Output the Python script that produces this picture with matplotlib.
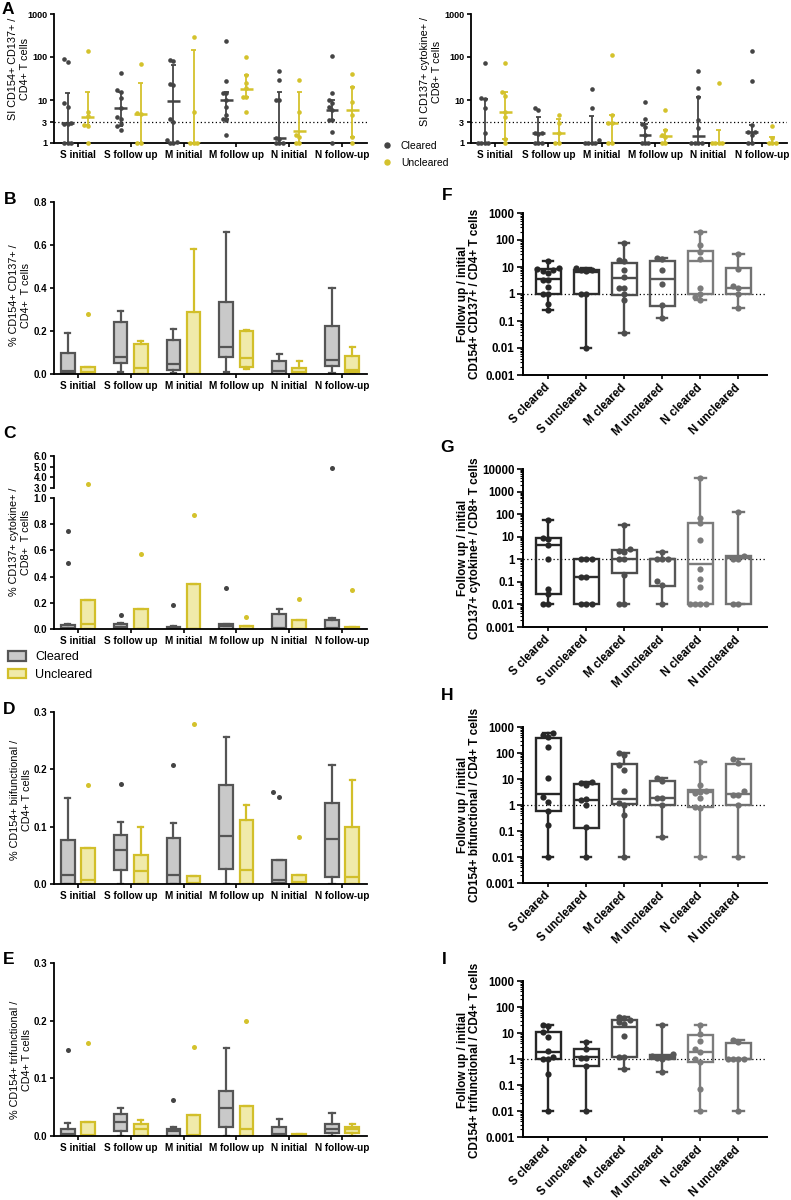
import numpy as np
import matplotlib
matplotlib.use('Agg')
import matplotlib.pyplot as plt
from matplotlib.lines import Line2D
from matplotlib.patches import Patch
from matplotlib.ticker import LogLocator, NullFormatter, NullLocator

plt.rcParams['font.family'] = ['Liberation Sans', 'DejaVu Sans']

# ---------------- data ----------------
groups_a = ['S initial', 'S follow up', 'M initial', 'M follow up', 'N initial', 'N follow-up']
groups_r = ['S cleared', 'S uncleared', 'M cleared', 'M uncleared', 'N cleared', 'N uncleared']

# A left: SI CD154+ CD137+ / CD4+
a1_c_pts = [[75, 92, 8.5, 7.0, 2.9, 2.8, 2.7, 1, 1, 1],
            [42, 17, 15.5, 11, 6.4, 4.1, 3.7, 2.8, 2.5, 2.05],
            [83, 80, 23.7, 22.8, 3.7, 3.1, 1.15, 1.05, 1, 1],
            [230, 28, 14.8, 14.3, 10, 7, 4.5, 3.7, 3.5, 1.5],
            [48, 29.4, 10, 9.8, 1.33, 1.26, 1, 1, 1],
            [107, 14.8, 10, 8.3, 6.7, 5.8, 3.5, 3.4, 1.8, 1]]
a1_c_med = [2.9, 6.4, 9.5, 10, 1.33, 6.0]
a1_c_lo = [1, 2.5, 1, 3.7, 1, 3.4]
a1_c_hi = [14.8, 15.6, 66, 15.6, 15.6, 10]
a1_u_pts = [[140, 5.3, 4.2, 2.6, 2.5, 1],
            [70, 5.0, 4.7, 1, 1],
            [295, 5.3, 1, 1, 1],
            [100, 38.6, 25, 18.8, 12, 11.5, 5.3],
            [29.4, 5.3, 1.5, 1.38, 1, 1],
            [40.6, 19.9, 9.1, 4.5, 1.38, 1]]
a1_u_med = [4.1, 4.7, 1, 17.8, 1.9, 6.0]
a1_u_lo = [2.6, 1, 1, 11.5, 1, 1.38]
a1_u_hi = [15.6, 25, 143, 38.6, 15.6, 19.9]

# A right: SI CD137+ cytokine+ / CD8+
a2_c_pts = [[72, 11, 10.4, 6.4, 1.7, 1, 1, 1, 1],
            [6.4, 5.8, 1.75, 1.7, 1.65, 1, 1, 1],
            [17.8, 6.4, 1.15, 1, 1, 1, 1],
            [9.1, 3.7, 2.7, 2.4, 1.5, 1, 1, 1],
            [48, 19.5, 12, 3.5, 2.2, 1, 1, 1, 1],
            [135, 28, 2.6, 1.8, 1.8, 1.5, 1, 1]]
a2_c_med = [1, 1.75, 1, 1.5, 1.46, 1.8]
a2_c_lo = [1, 1, 1, 1, 1, 1]
a2_c_hi = [10.4, 4.1, 4.2, 2.7, 12, 2.6]
a2_u_pts = [[72, 15.6, 12.6, 5.3, 4.1, 1.26, 1],
            [4.5, 2.9, 1.7, 1, 1],
            [113, 4.6, 2.9, 2.9, 1, 1],
            [6.0, 2.0, 1.5, 1.38, 1, 1],
            [24.6, 1, 1, 1, 1],
            [2.5, 1.33, 1, 1, 1]]
a2_u_med = [5.3, 1.7, 2.9, 1.43, 1, 1]
a2_u_lo = [1.26, 1, 1, 1, 1, 1]
a2_u_hi = [15.6, 3.7, 4.6, 2.0, 2.0, 1.38]

# box stats: (whislo, q1, med, q3, whishi)
b_c = [(0, 0.005, 0.015, 0.098, 0.19), (0.011, 0.05, 0.078, 0.243, 0.295),
       (0.005, 0.017, 0.047, 0.16, 0.209), (0.008, 0.078, 0.124, 0.333, 0.66),
       (0, 0.0, 0.016, 0.059, 0.095), (0.004, 0.039, 0.067, 0.222, 0.4)]
b_u = [(0, 0, 0.009, 0.031, 0.031), (0, 0, 0.028, 0.141, 0.152),
       (0, 0, 0.0, 0.29, 0.58), (0.023, 0.033, 0.075, 0.2, 0.203),
       (0, 0, 0.008, 0.03, 0.059), (0, 0.008, 0.02, 0.082, 0.124)]
b_c_out = [[], [], [], [], [], []]
b_u_out = [[0.28], [], [], [], [], []]

c_c = [(0, 0, 0.005, 0.033, 0.035), (0, 0, 0.018, 0.038, 0.046),
       (0, 0, 0.008, 0.018, 0.023), (0, 0, 0.023, 0.038, 0.041),
       (0, 0, 0.005, 0.115, 0.149), (0, 0, 0.004, 0.072, 0.085)]
c_u = [(0, 0, 0.038, 0.22, 0.22), (0, 0, 0.002, 0.155, 0.155),
       (0, 0, 0.002, 0.34, 0.34), (0, 0, 0.003, 0.023, 0.023),
       (0, 0, 0.003, 0.072, 0.072), (0, 0, 0.002, 0.013, 0.013)]
c_c_out = [[0.75, 0.505], [0.11], [0.18], [0.31], [], [4.85]]
c_u_out = [[3.35], [0.57], [0.87], [0.09], [0.23], [0.3]]

d_c = [(0, 0.0, 0.016, 0.077, 0.15), (0, 0.024, 0.06, 0.085, 0.109),
       (0, 0.0, 0.016, 0.081, 0.107), (0, 0.026, 0.083, 0.172, 0.256),
       (0, 0.002, 0.007, 0.042, 0.042), (0, 0.013, 0.079, 0.142, 0.208)]
d_u = [(0, 0, 0.0075, 0.063, 0.063), (0, 0, 0.023, 0.051, 0.1),
       (0, 0, 0.001, 0.014, 0.014), (0, 0, 0.025, 0.112, 0.138),
       (0, 0, 0.003, 0.016, 0.016), (0, 0, 0.012, 0.1, 0.182)]
d_c_out = [[], [0.174], [0.207], [], [0.151, 0.161], []]
d_u_out = [[0.172], [], [0.279], [], [0.082], []]

e_c = [(0, 0, 0.003, 0.013, 0.022), (0, 0.008, 0.025, 0.038, 0.048),
       (0, 0, 0.008, 0.013, 0.016), (0, 0.015, 0.048, 0.078, 0.152),
       (0, 0, 0.003, 0.016, 0.03), (0, 0.005, 0.013, 0.021, 0.04)]
e_u = [(0, 0, 0.002, 0.025, 0.025), (0, 0, 0.012, 0.02, 0.027),
       (0, 0, 0.001, 0.036, 0.036), (0, 0, 0.012, 0.052, 0.052),
       (0, 0, 0.001, 0.004, 0.004), (0, 0.005, 0.012, 0.016, 0.02)]
e_c_out = [[0.15], [], [0.062], [], [], []]
e_u_out = [[0.162], [], [0.155], [0.2], [], []]

# follow up / initial ratios
f_stats = [(0.25, 1, 3.7, 8.7, 16.2), (0.01, 1, 6.5, 7.5, 9.4), (0.037, 0.95, 4.0, 14, 80),
           (0.13, 0.35, 3.7, 16, 22), (0.62, 1, 16.7, 39, 198), (0.3, 1, 1.7, 9.4, 31)]
f_pts = [[16, 9.4, 8.7, 7.5, 7.1, 6, 3.4, 3.2, 1.8, 1, 1, 0.41, 0.25],
         [9.4, 8.0, 7.5, 7.1, 1, 1, 0.01],
         [80, 18.7, 16.7, 8, 4.3, 1.7, 1.6, 1, 0.58, 0.037],
         [22, 20, 7.5, 2.4, 0.38, 0.13],
         [198, 63, 36, 19, 1.7, 1, 0.77, 0.62],
         [31, 8.7, 1.9, 1.7, 1, 0.3]]
g_stats = [(0.01, 0.03, 4.3, 8.5, 55), (0.01, 0.01, 0.17, 1, 1), (0.01, 0.24, 1, 2.6, 34),
           (0.01, 0.066, 1, 1, 2.2), (0.01, 0.01, 0.64, 42, 3800), (0.01, 0.01, 1.1, 1.4, 128)]
g_pts = [[55, 9, 8.2, 4.3, 1, 0.05, 0.03, 0.01, 0.01],
         [1, 1, 1, 0.17, 0.17, 0.01, 0.01, 0.01],
         [34, 3, 2.3, 2, 1, 1, 0.2, 0.01, 0.01],
         [2.2, 1, 1, 1, 0.11, 0.07, 0.01],
         [3800, 70, 39, 7, 0.36, 0.13, 0.062, 0.01, 0.01, 0.01, 0.01],
         [128, 1.4, 1, 1, 0.01, 0.01]]
h_stats = [(0.01, 0.59, 2.65, 390, 570), (0.01, 0.13, 1.56, 6.2, 7.9), (0.01, 1.1, 1.7, 38, 103),
           (0.06, 1, 1.8, 8.4, 10.6), (0.01, 0.81, 3.2, 3.8, 44), (0.01, 1, 2.65, 38, 57)]
h_pts = [[570, 490, 400, 175, 10.6, 2.1, 1.35, 0.6, 0.17, 0.01],
         [7.9, 6.8, 5.9, 1.7, 1.55, 1, 0.14, 0.01],
         [100, 84, 34, 22, 3.5, 1.2, 1, 0.41, 0.01],
         [10.6, 8.6, 1.8, 1.8, 1, 0.06],
         [44, 5.9, 3.6, 3.3, 2.8, 1.8, 0.86, 0.75, 0.01],
         [57, 40, 3.45, 2.4, 2.4, 1, 0.01]]
i_stats = [(0.01, 1, 1.9, 10.8, 21), (0.01, 0.55, 1.16, 2.44, 4.4), (0.41, 1.2, 17, 33, 43),
           (0.33, 1.0, 1.16, 1.47, 19.5), (0.01, 0.74, 1.8, 8.5, 19.5), (0.01, 1, 1, 4.0, 5.4)]
i_pts = [[21, 18.4, 10.8, 7.3, 2, 1.16, 1, 1, 0.26, 0.01],
         [4.4, 2.4, 1.1, 1.1, 0.55, 0.01],
         [43, 39, 32, 26, 22, 7.5, 1.2, 1.2, 0.41],
         [19.5, 1.5, 1.35, 1.16, 1.1, 1, 0.33],
         [19.5, 8.8, 5.1, 2.4, 1.8, 1, 0.74, 0.073, 0.01],
         [5.4, 4.4, 1, 1, 1, 1, 0.01]]

# ---------------- style ----------------
DARK = '#444444'
YEL = '#d4c22c'
G_FACE = '#c9c9c9'
G_EDGE = '#555555'
Y_FACE = '#f0eaaa'
Y_EDGE = '#d2bf2a'
R_COLS = ['#262626', '#2e2e2e', '#4d4d4d', '#575757', '#7c7c7c', '#727272']

W, H = 791, 1200
fig = plt.figure(figsize=(W / 100, H / 100), dpi=100)


def px_axes(x0, y0, x1, y1):
    return fig.add_axes([x0 / W, 1 - y1 / H, (x1 - x0) / W, (y1 - y0) / H])


def clean(ax, lw=1.4):
    for s in ['top', 'right']:
        ax.spines[s].set_visible(False)
    for s in ['left', 'bottom']:
        ax.spines[s].set_linewidth(lw)
    ax.tick_params(width=1.2, length=4, color='black')


def swarm(vals, step, thr, log=True):
    v = np.log10(vals) if log else np.asarray(vals, float)
    offs = np.zeros(len(v))
    placed = []
    for i in np.argsort(v):
        used = [k for j, k in placed if abs(v[j] - v[i]) < thr]
        for k in [0, -1, 1, -2, 2, -3, 3, -4, 4, -5, 5]:
            if k not in used:
                break
        placed.append((i, k))
        offs[i] = k * step
    return offs


def txt(x, y, s, **kw):
    fig.text(x / W, 1 - y / H, s, **kw)


def panel_a(ax, cp, cm, clo, chi, up, um, ulo, uhi):
    ax.set_yscale('log')
    for i in range(6):
        for pts, med, lo, hi, col, dx in [(cp[i], cm[i], clo[i], chi[i], DARK, -0.19),
                                          (up[i], um[i], ulo[i], uhi[i], YEL, 0.19)]:
            x = i + dx
            offs = swarm(pts, 0.065, 0.1)
            ax.scatter(x + offs, pts, s=11, color=col, lw=0, zorder=3, clip_on=False)
            ax.vlines(x, lo, hi, color=col, lw=1.3, zorder=2)
            ax.hlines([lo, hi], x - 0.05, x + 0.05, color=col, lw=1.3, zorder=2)
            ax.hlines(med, x - 0.12, x + 0.12, color=col, lw=1.8, zorder=4)
    ax.axhline(3, ls=(0, (1, 2)), color='black', lw=0.9, zorder=1)
    ax.set_ylim(1, 1000)
    ax.set_xlim(-0.45, 5.47)
    clean(ax, 1.3)
    ax.yaxis.set_minor_locator(NullLocator())
    ax.set_yticks([1, 3, 10, 100, 1000], labels=['1', '3', '10', '100', '1000'],
                  fontweight='bold', fontsize=6.5)
    ax.set_xticks(range(6), labels=groups_a, fontweight='bold', fontsize=7.2)
    ax.tick_params(axis='y', length=3, pad=2)
    ax.tick_params(axis='x', length=3, pad=2)


def to_stats(rows):
    return [dict(whislo=a, q1=b, med=c, q3=d, whishi=e, fliers=[]) for a, b, c, d, e in rows]


def draw_boxes(ax, cs, us, cout, uout, thr):
    pos = np.arange(6)
    for stats, face, edge, dx in [(cs, G_FACE, G_EDGE, -0.19), (us, Y_FACE, Y_EDGE, 0.19)]:
        lp = dict(color=edge, lw=1.6)
        ax.bxp(to_stats(stats), positions=pos + dx, widths=0.26, patch_artist=True,
               showfliers=False, manage_ticks=False, capwidths=0.1,
               boxprops=dict(facecolor=face, edgecolor=edge, lw=1.6),
               medianprops=lp, whiskerprops=lp, capprops=lp)
    for outs, col, dx in [(cout, DARK, -0.19), (uout, YEL, 0.19)]:
        for i, o in enumerate(outs):
            if o:
                offs = swarm(o, 0.12, thr, log=False)
                ax.scatter(i + dx + offs, o, s=13, color=col, lw=0, zorder=3)
    ax.set_xlim(-0.45, 5.47)


def panel_box(ax, cs, us, cout, uout, top, ticks):
    draw_boxes(ax, cs, us, cout, uout, top * 0.04)
    ax.set_ylim(0, top)
    clean(ax, 1.3)
    ax.set_yticks(ticks, labels=['%.1f' % t for t in ticks], fontweight='bold', fontsize=7)
    ax.set_xticks(range(6), labels=groups_a, fontweight='bold', fontsize=7.2)
    ax.tick_params(length=3, pad=2)


def panel_ratio(ax, stats, pts, top, ylabels):
    for i in range(6):
        lp = dict(color=R_COLS[i], lw=1.7)
        ax.bxp(to_stats([stats[i]]), positions=[i], widths=0.66, patch_artist=True,
               showfliers=False, manage_ticks=False, capwidths=0.27,
               boxprops=dict(facecolor='none', edgecolor=R_COLS[i], lw=1.7),
               medianprops=lp, whiskerprops=lp, capprops=lp, zorder=2)
        offs = swarm(pts[i], 0.14, 0.2)
        ax.scatter(i + offs, pts[i], s=20, color=R_COLS[i], lw=0, zorder=3)
    ax.axhline(1, ls=(0, (1, 2)), color='black', lw=0.9, zorder=1)
    ax.set_yscale('log')
    ax.set_ylim(0.001, top)
    ax.set_xlim(-0.66, 5.75)
    clean(ax, 1.4)
    decs = [10.0 ** k for k in range(-3, len(ylabels) - 3)]
    ax.set_yticks(decs, labels=ylabels, fontweight='bold', fontsize=8.3)
    ax.yaxis.set_minor_locator(LogLocator(base=10, subs=np.arange(2, 10), numticks=20))
    ax.yaxis.set_minor_formatter(NullFormatter())
    ax.tick_params(axis='y', which='minor', length=2, width=0.8)
    ax.tick_params(axis='y', which='major', length=4, pad=2)
    ax.set_xticks(range(6), labels=groups_r, rotation=45, ha='right', va='center',
                  rotation_mode='anchor', fontweight='bold', fontsize=8.3)
    ax.tick_params(axis='x', length=3, pad=5)


# ---------------- A ----------------
ax_a1 = px_axes(54, 14, 367, 143)
panel_a(ax_a1, a1_c_pts, a1_c_med, a1_c_lo, a1_c_hi, a1_u_pts, a1_u_med, a1_u_lo, a1_u_hi)
ax_a2 = px_axes(471, 14, 787, 143)
panel_a(ax_a2, a2_c_pts, a2_c_med, a2_c_lo, a2_c_hi, a2_u_pts, a2_u_med, a2_u_lo, a2_u_hi)

fig.legend([Line2D([], [], marker='o', ls='', color=DARK, ms=3.6),
            Line2D([], [], marker='o', ls='', color=YEL, ms=3.6)],
           ['Cleared', 'Uncleared'], loc='upper left', bbox_to_anchor=(382 / W, 1 - 141 / H),
           frameon=False, fontsize=7.5, handlelength=1.0, handletextpad=0.8,
           labelspacing=0.65, borderpad=0, borderaxespad=0)

# ---------------- B ----------------
ax_b = px_axes(54, 202, 367, 374)
panel_box(ax_b, b_c, b_u, b_c_out, b_u_out, 0.8, [0.0, 0.2, 0.4, 0.6, 0.8])

# ---------------- C (broken axis) ----------------
ax_ct = px_axes(54, 456, 367, 488)
ax_cb = px_axes(54, 498, 367, 629)
for ax in (ax_ct, ax_cb):
    draw_boxes(ax, c_c, c_u, c_c_out, c_u_out, 0.04)
ax_ct.set_ylim(3, 6)
ax_cb.set_ylim(0, 1)
clean(ax_ct, 1.3)
clean(ax_cb, 1.3)
ax_ct.spines['bottom'].set_visible(False)
ax_ct.set_xticks([])
ax_ct.set_yticks([3, 4, 5, 6], labels=['3.0', '4.0', '5.0', '6.0'], fontweight='bold', fontsize=7)
ax_cb.set_yticks([0, 0.2, 0.4, 0.6, 0.8, 1.0], labels=['0.0', '0.2', '0.4', '0.6', '0.8', '1.0'],
                 fontweight='bold', fontsize=7)
ax_cb.set_xticks(range(6), labels=groups_a, fontweight='bold', fontsize=7.2)
for ax in (ax_ct, ax_cb):
    ax.tick_params(length=3, pad=2)

fig.legend([Patch(facecolor=G_FACE, edgecolor=G_EDGE, lw=1.6),
            Patch(facecolor=Y_FACE, edgecolor=Y_EDGE, lw=1.6)],
           ['Cleared', 'Uncleared'], loc='upper left', bbox_to_anchor=(8 / W, 1 - 651 / H),
           frameon=False, fontsize=9, handlelength=1.4, handleheight=0.8,
           handletextpad=0.8, labelspacing=0.45, borderpad=0, borderaxespad=0)

# ---------------- D, E ----------------
ax_d = px_axes(54, 712, 367, 884)
panel_box(ax_d, d_c, d_u, d_c_out, d_u_out, 0.3, [0.0, 0.1, 0.2, 0.3])
ax_e = px_axes(54, 963, 367, 1136)
panel_box(ax_e, e_c, e_u, e_c_out, e_u_out, 0.3, [0.0, 0.1, 0.2, 0.3])

# ---------------- F-I ----------------
ax_f = px_axes(523, 213, 767, 375)
panel_ratio(ax_f, f_stats, f_pts, 1000, ['0.001', '0.01', '0.1', '1', '10', '100', '1000'])
ax_g = px_axes(523, 469, 767, 627)
panel_ratio(ax_g, g_stats, g_pts, 10000, ['0.001', '0.01', '0.1', '1', '10', '100', '1000', '10000'])
ax_h = px_axes(523, 727, 767, 883)
panel_ratio(ax_h, h_stats, h_pts, 1000, ['0.001', '0.01', '0.1', '1', '10', '100', '1000'])
ax_i = px_axes(523, 981, 767, 1137)
panel_ratio(ax_i, i_stats, i_pts, 1000, ['0.001', '0.01', '0.1', '1', '10', '100', '1000'])

# ---------------- labels ----------------
yl = dict(rotation=90, ha='center', va='center', multialignment='center', fontsize=7.8, linespacing=1.15)
txt(19, 69, 'SI CD154+ CD137+ /\nCD4+ T cells', **yl)
txt(431, 72, 'SI CD137+ cytokine+ /\nCD8+ T cells', **yl)
txt(20, 295, '% CD154+ CD137+ /\nCD4+  T cells', **yl)
txt(20, 542, '% CD137+ cytokine+ /\nCD8+  T cells', **yl)
txt(21, 800, '% CD154+ biifunctional /\nCD4+ T cells', **yl)
txt(21, 1060, '% CD154+ trifunctional /\nCD4+ T cells', **yl)

yr = dict(rotation=90, ha='center', va='center', multialignment='center', fontsize=8.5,
          fontweight='bold', linespacing=1.1)
txt(469, 294, 'Follow up / initial\nCD154+ CD137+ / CD4+ T cells', **yr)
txt(469, 548, 'Follow up / initial\nCD137+ cytokine+ / CD8+ T cells', **yr)
txt(469, 805, 'Follow up / initial\nCD154+ bifunctional / CD4+ T cells', **yr)
txt(469, 1060, 'Follow up / initial\nCD154+ trifunctional / CD4+ T cells', **yr)

pl = dict(fontsize=12.5, fontweight='bold', ha='center', va='center')
for letter, x, y in [('A', 8, 9), ('B', 10, 200), ('C', 10, 433), ('D', 9, 710), ('E', 9, 960),
                     ('F', 447, 195), ('G', 447, 448), ('H', 447, 695), ('I', 444, 960)]:
    txt(x, y, letter, **pl)

fig.savefig('out.png', dpi=100, facecolor='white')
